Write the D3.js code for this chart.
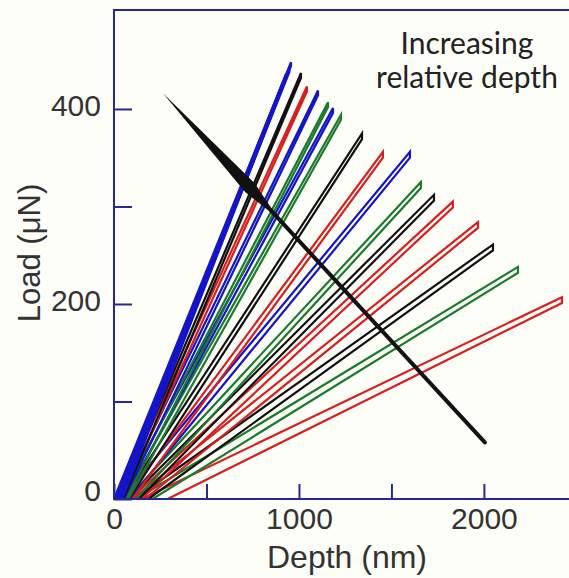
<!DOCTYPE html>
<html>
<head>
<meta charset="utf-8">
<script src="https://cdn.jsdelivr.net/npm/d3@7"></script>
<style>
  html, body { margin: 0; padding: 0; background: #fefef9; }
  svg { display: block; }
  text { font-family: "Liberation Sans", Arial, sans-serif; fill: #333; }
</style>
</head>
<body>
<svg id="chart" width="569" height="578"></svg>
<script>
// ---- data ----
const depthTicks = [0, 500, 1000, 1500, 2000];
const depthLabels = [0, 1000, 2000];
const loadTicks = [0, 100, 200, 300, 400];
const loadLabels = [0, 200, 400];

// one entry per indentation test (loading start, peak, unloading end)
const curveColors = ["blue", "blue", "blue", "blue", "black", "red", "blue", "green", "blue", "green", "black",
                     "red", "blue", "green", "black", "red", "red", "black", "green", "red"];
const peakDepth   = [957, 948, 930, 915, 1011, 1043, 1103, 1157, 1184, 1227, 1341,
                     1454, 1600, 1659, 1730, 1832, 1968, 2049, 2184, 2422];
const peakLoad    = [448, 442, 436, 428, 437, 423, 419, 407, 401, 394, 375,
                     356, 356, 325, 312, 305, 284, 261, 238, 207];
const unloadLoad  = [444, 438, 432, 424, 432, 418, 414, 402, 396, 389, 369,
                     350, 350, 319, 306, 299, 278, 255, 232, 201];
const startDepth  = [0, 8, 15, 25, 30, 20, 30, 40, 30, 50, 50,
                     60, 40, 70, 80, 90, 100, 110, 120, 150];
const endDepth    = [19, 27, 35, 45, 50, 42, 53, 65, 56, 77, 81,
                     99, 84, 119, 134, 148, 167, 185, 208, 290];

// "increasing relative depth" pointer (depth, load)
const arrowDepth = [265, 2005];
const arrowLoad  = [416, 58];

const labelText = ["Increasing", "relative depth"];

// ---- drawing ----
const palette = { blue: "#1414c8", red: "#d81e1e", green: "#1b7a2c", black: "#111111" };
const svg = d3.select("#chart");
const W = 569, H = 578;
const m = { left: 114, top: 10, bottom: 79 };

const x = d3.scaleLinear().domain([0, 2460]).range([m.left, W]);
const y = d3.scaleLinear().domain([0, 501.5]).range([H - m.bottom, m.top]);

const plot = svg.append("g");
const line = d3.line().x(d => x(d[0])).y(d => y(d[1]));

const curves = curveColors.map((c, i) => ({
  color: c,
  pts: [[startDepth[i], 0], [peakDepth[i], peakLoad[i]], [peakDepth[i], unloadLoad[i]], [endDepth[i], 0]]
}));

plot.selectAll("path.curve")
  .data(curves.slice().reverse())
  .join("path")
  .attr("class", "curve")
  .attr("d", d => line(d.pts))
  .attr("fill", "none")
  .attr("stroke", d => palette[d.color])
  .attr("stroke-width", 2.2)
  .attr("stroke-linejoin", "miter");

// pointer: tapered wedge followed by a straight line
const p0 = [x(arrowDepth[0]), y(arrowLoad[0])];
const p1 = [x(arrowDepth[1]), y(arrowLoad[1])];
const dx = p1[0] - p0[0], dy = p1[1] - p0[1];
const len = Math.hypot(dx, dy);
const ux = dx / len, uy = dy / len;
const nx = -uy, ny = ux;
const f = 0.27, hw = 6.5;
const b = [p0[0] + dx * f, p0[1] + dy * f];
const b2 = [p0[0] + dx * (f + 0.06), p0[1] + dy * (f + 0.06)];
plot.append("path")
  .attr("d", `M${p0[0]},${p0[1]} L${b[0] + nx * hw},${b[1] + ny * hw} L${b2[0] + nx * 2},${b2[1] + ny * 2} L${b2[0] - nx * 2},${b2[1] - ny * 2} L${b[0] - nx * hw},${b[1] - ny * hw} Z`)
  .attr("fill", "#111");
plot.append("line")
  .attr("x1", b[0]).attr("y1", b[1]).attr("x2", p1[0]).attr("y2", p1[1])
  .attr("stroke", "#111").attr("stroke-width", 4).attr("stroke-linecap", "round");

// frame
const frameColor = "#27279a";
svg.append("rect")
  .attr("x", m.left).attr("y", m.top)
  .attr("width", W - m.left + 5).attr("height", H - m.bottom - m.top)
  .attr("fill", "none").attr("stroke", frameColor).attr("stroke-width", 2);

// axes
const xAxis = d3.axisBottom(x).tickValues(depthTicks).tickSize(-15).tickPadding(9)
  .tickFormat(d => depthLabels.includes(d) ? d : "");
const gx = svg.append("g").attr("transform", `translate(0,${y(0)})`).call(xAxis);
gx.select(".domain").remove();
gx.selectAll(".tick line").attr("stroke", frameColor).attr("stroke-width", 2);
gx.selectAll(".tick text").attr("font-size", 30).attr("fill", "#333");

const yAxis = d3.axisLeft(y).tickValues(loadTicks).tickSize(-18).tickPadding(13)
  .tickFormat(d => loadLabels.includes(d) ? d : "");
const gy = svg.append("g").attr("transform", `translate(${x(0)},0)`).call(yAxis);
gy.select(".domain").remove();
gy.selectAll(".tick line").attr("stroke", frameColor).attr("stroke-width", 2);
gy.selectAll(".tick text").attr("font-size", 30).attr("fill", "#333")
  .attr("dy", d => d === 0 ? "0.05em" : "0.22em");

// axis titles
svg.append("text").attr("x", 347).attr("y", 568).attr("text-anchor", "middle")
  .attr("font-size", 32).text("Depth (nm)");
svg.append("text").attr("transform", "translate(40,253) rotate(-90)")
  .attr("text-anchor", "middle").attr("font-size", 31).text("Load (μN)");

// annotation
svg.append("g").selectAll("text").data(labelText).join("text")
  .attr("x", 467).attr("y", (d, i) => 54 + i * 34)
  .attr("text-anchor", "middle")
  .style("font-family", "Lato, 'Open Sans', sans-serif")
  .attr("font-size", 30).style("fill", "#222")
  .text(d => d);
</script>
</body>
</html>
